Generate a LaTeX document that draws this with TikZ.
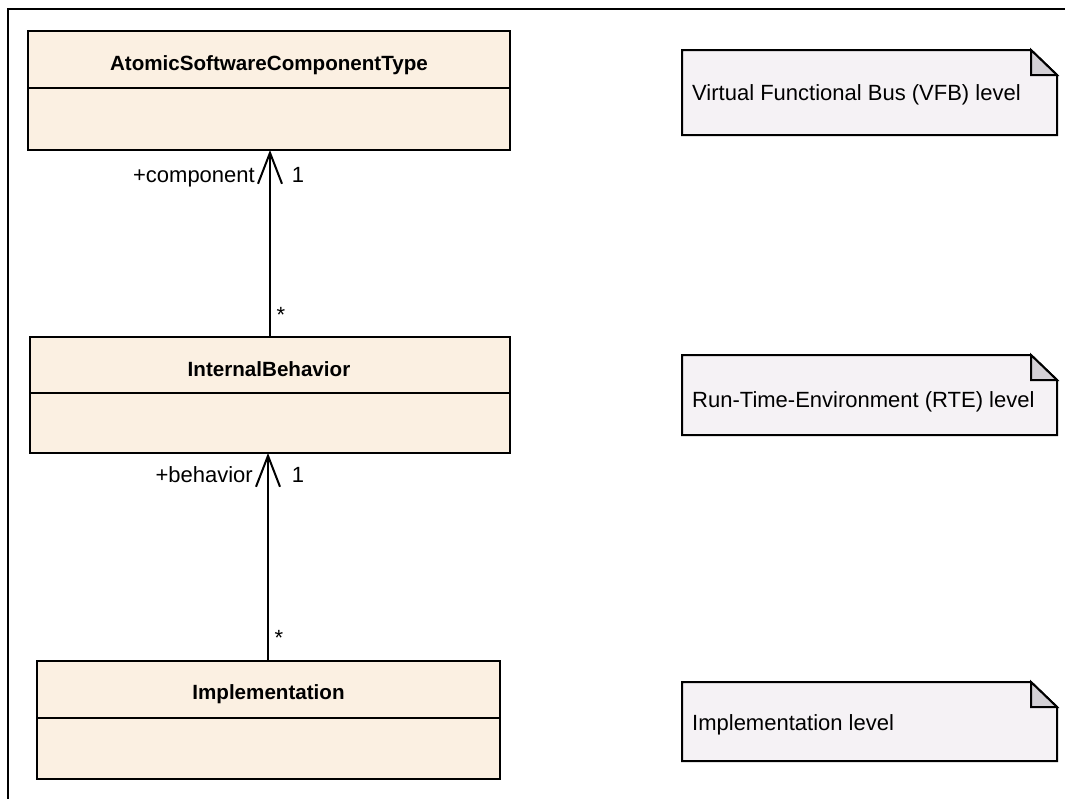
\documentclass[tikz,border=0pt]{standalone}
\usepackage{fontspec}
\setmainfont{Liberation Sans}
\usetikzlibrary{arrows.meta,calc}
\definecolor{classfill}{RGB}{251,240,226}
\definecolor{notefill}{RGB}{245,242,245}
\definecolor{foldfill}{RGB}{211,208,213}
\begin{document}
\begin{tikzpicture}[x=1pt,y=-1pt,
  classbox/.style={draw=black, line width=2pt, fill=classfill, rectangle, inner sep=0pt, outer sep=0pt},
  divider/.style={draw=black, line width=2pt},
  classtitle/.style={font=\fontsize{20.6}{24}\selectfont\bfseries, anchor=base, inner sep=0pt},
  notearea/.style={rectangle, inner sep=0pt, outer sep=0pt, minimum width=375pt},
  notebody/.style={draw=black, line width=2pt, fill=notefill, line join=miter},
  notefold/.style={draw=black, line width=2pt, fill=foldfill},
  notetext/.style={font=\fontsize{22}{26}\selectfont, anchor=base west, inner sep=0pt},
  role/.style={font=\fontsize{22}{26}\selectfont, anchor=base, inner sep=0pt},
  assoc/.style={draw=black, line width=2pt, -{Straight Barb[length=31pt,width=24pt,line width=2pt]}},
  frameline/.style={draw=black, line width=2.6pt},
]
\useasboundingbox (0,0) rectangle (1065,798);

% frame
\coordinate (frA) at (1070,9);
\coordinate (frB) at (8,9);
\coordinate (frC) at (8,803);
\draw[frameline] (frA) -- (frB) -- (frC);

% classes
\node[classbox, minimum width=482pt, minimum height=119pt] (c1) at (269,90.5) {};
\draw[divider] ($(c1.north west)+(0,57)$) -- ($(c1.north east)+(0,57)$);
\node[classtitle] (t1) at (269,70) {AtomicSoftwareComponentType};

\node[classbox, minimum width=480pt, minimum height=116pt] (c2) at (270,395) {};
\draw[divider] ($(c2.north west)+(0,56)$) -- ($(c2.north east)+(0,56)$);
\node[classtitle] (t2) at (269,376) {InternalBehavior};

\node[classbox, minimum width=463pt, minimum height=118pt] (c3) at (268,720) {};
\draw[divider] ($(c3.north west)+(0,57)$) -- ($(c3.north east)+(0,57)$);
\node[classtitle] (t3) at (268.5,699) {Implementation};

% associations
\draw[assoc] (c2.north) -- (c2.north |- c1.south);
\draw[assoc] (c3.north) -- (c3.north |- c2.south);

\node[role, anchor=base east] (r1) at (255,182) {+component};
\node[role] (m1) at (298,182) {1};
\node[role] (s1) at (281,322) {*};

\node[role, anchor=base east] (r2) at (253,482) {+behavior};
\node[role] (m2) at (298,482) {1};
\node[role] (s2) at (279,645) {*};

% notes
\node[notearea, minimum height=85pt] (n1) at (869.5,92.5) {};
\node[notearea, minimum height=80pt] (n2) at (869.5,395) {};
\node[notearea, minimum height=79pt] (n3) at (869.5,721.5) {};
\foreach \n in {n1,n2,n3} {
  \draw[notebody] (\n.north west) -- ($(\n.north east)+(-26,0)$) -- ($(\n.north east)+(0,25)$) -- (\n.south east) -- (\n.south west) -- cycle;
  \draw[notefold] ($(\n.north east)+(-26,0)$) -- ($(\n.north east)+(-26,25)$) -- ($(\n.north east)+(0,25)$) -- cycle;
}
\node[notetext] (nt1) at (692,100) {Virtual Functional Bus (VFB) level};
\node[notetext] (nt2) at (692,407) {Run-Time-Environment (RTE) level};
\node[notetext] (nt3) at (692,730) {Implementation level};
\end{tikzpicture}
\end{document}
